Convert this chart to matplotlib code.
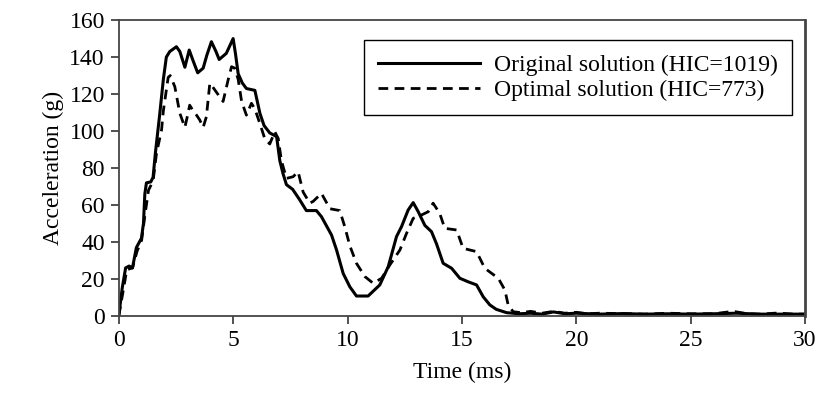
import matplotlib.pyplot as plt

plt.rcParams.update({'font.family': 'Liberation Serif', 'font.size': 17})

# Original solution (HIC=1019)
t_orig = [0, 0.15, 0.3, 0.45, 0.6, 0.77, 0.99, 1.08, 1.14, 1.21,
          1.4, 1.5, 1.6, 1.79, 1.95, 2.08, 2.23, 2.52, 2.67, 2.89,
          3.08, 3.25, 3.45, 3.69, 3.85, 4.05, 4.25, 4.39, 4.7, 5.0,
          5.1, 5.22, 5.4, 5.58, 5.95, 6.17, 6.35, 6.6, 6.9, 7.04,
          7.18, 7.33, 7.6, 7.9, 8.2, 8.64, 8.86, 9.3, 9.52, 9.81,
          10.1, 10.39, 10.9, 11.41, 11.78, 12.14, 12.36, 12.65, 12.87, 13.09,
          13.38, 13.67, 13.89, 14.18, 14.55, 14.91, 15.27, 15.64, 15.93, 16.22,
          16.5, 16.95, 17.5, 18, 18.5, 19, 19.5, 20, 21, 22,
          23, 24, 25, 26, 27, 28, 29, 30]
a_orig = [0, 15, 26, 27, 26, 37, 42, 50, 66, 72,
          72.5, 75, 88, 109, 128, 140, 143, 145.6, 143, 134.5,
          143.8, 138, 131.5, 134, 141, 148.3, 143, 138.7, 142, 150,
          142, 131, 126, 123, 122, 109.6, 103, 99, 97, 84,
          77, 71, 68.5, 63, 57, 57, 53.7, 43.8, 35.7, 23,
          15.8, 10.8, 10.8, 16.8, 26.7, 42.9, 48.3, 57.3, 61.3, 56.4,
          49, 45.6, 39, 28.5, 25.8, 20.4, 18.5, 16.8, 10.4, 6,
          3.6, 1.8, 1.2, 1.5, 1.0, 2.2, 1.2, 1.5, 1.0, 1.3,
          1.0, 1.2, 1.0, 1.2, 1.5, 1.0, 1.0, 1.0]

# Optimal solution (HIC=773)
t_opt = [0, 0.2, 0.35, 0.6, 0.8, 1.0, 1.15, 1.3, 1.5, 1.65,
         1.87, 1.95, 2.16, 2.25, 2.45, 2.67, 2.89, 3.0, 3.1, 3.25,
         3.4, 3.54, 3.69, 3.83, 3.98, 4.1, 4.27, 4.56, 4.78, 4.93,
         5.07, 5.22, 5.37, 5.58, 5.8, 5.95, 6.17, 6.38, 6.6, 6.82,
         6.97, 7.11, 7.33, 7.62, 7.84, 8.06, 8.35, 8.5, 8.86, 9.23,
         9.66, 9.88, 10.1, 10.39, 10.76, 11.12, 11.49, 11.85, 12.29, 12.58,
         12.87, 13.23, 13.53, 13.74, 14.03, 14.25, 14.77, 15.05, 15.64, 16.0,
         16.59, 16.88, 17.02, 17.24, 17.6, 18, 18.5, 19, 19.5, 20,
         20.5, 21, 22, 23, 24, 25, 26, 26.85, 27.5, 28,
         28.8, 29.5, 30]
a_opt = [0, 14, 25, 26, 35, 41, 55, 68, 73, 88,
         100.5, 111, 129, 130, 124, 109.6, 102, 108, 114, 111,
         108.6, 106, 102, 107.7, 125.8, 124, 121, 116, 127.6, 134.8,
         134, 128, 116, 108.6, 115, 112, 104, 96, 93, 99.6,
         96, 84, 74.4, 75.3, 78, 67, 61, 62, 66.3, 58,
         57, 48.3, 38, 28.5, 21.3, 17.7, 20.4, 27.6, 35.7, 44.7,
         52.8, 54.6, 56.4, 61, 55.5, 47.4, 46.5, 36.6, 34.8, 25.8,
         20.4, 14, 6, 2.3, 1.8, 2.5, 1.5, 2.5, 1.5, 2.0,
         1.2, 1.5, 1.3, 1.0, 1.5, 1.2, 1.2, 2.5, 1.2, 1.0,
         1.6, 1.0, 1.0]

fig = plt.figure(figsize=(8.19, 3.94), dpi=100)
ax = fig.add_axes([0.145, 0.198, 0.838, 0.751])

ax.plot(t_opt, a_opt, color='black', lw=2.0, linestyle=(0, (3.5, 2.3)),
        label='Optimal solution (HIC=773)')
ax.plot(t_orig, a_orig, color='black', lw=2.2,
        label='Original solution (HIC=1019)')

ax.set_xlim(0, 30)
ax.set_ylim(0, 160)
ax.set_xticks(range(0, 31, 5))
ax.set_yticks(range(0, 161, 20))
ax.tick_params(direction='out', length=6, width=1.2, color='#333333', pad=4)
for s in ax.spines.values():
    s.set_color('#444444')
    s.set_linewidth(1.3)
ax.spines['right'].set_linewidth(2.0)

ax.set_xlabel('Time (ms)', labelpad=8)
ax.set_ylabel('Acceleration (g)')

h, l = ax.get_legend_handles_labels()
leg = ax.legend(h[::-1], l[::-1], loc='upper right', bbox_to_anchor=(0.981, 0.932),
                borderaxespad=0, fancybox=False, edgecolor='black', framealpha=1,
                handlelength=4.3, handletextpad=0.6, labelspacing=0.15,
                borderpad=0.6)
leg.get_frame().set_linewidth(1.0)

fig.savefig('out.png', dpi=100)
